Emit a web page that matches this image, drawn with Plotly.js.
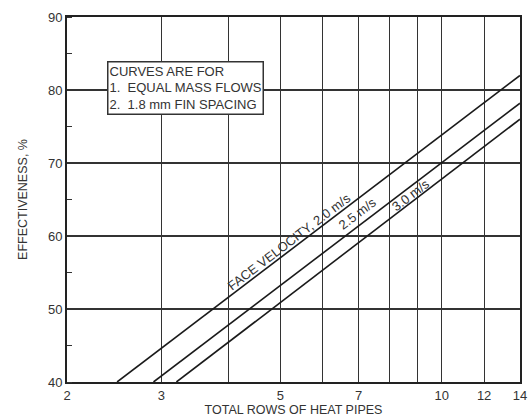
<!DOCTYPE html>
<html>
<head>
<meta charset="utf-8">
<script src="https://cdn.plot.ly/plotly-3.0.1.min.js"></script>
<style>html,body{margin:0;padding:0;background:#fff;}#chart{width:531px;height:419px;}</style>
</head>
<body>
<div id="chart"></div>
<script>
// Data
const rowsV20 = [2.48, 14];
const effV20 = [40, 82.0];
const rowsV25 = [2.90, 14];
const effV25 = [40, 78.2];
const rowsV30 = [3.20, 14];
const effV30 = [40, 76.0];

const xTickVals = [2, 3, 4, 5, 6, 7, 8, 9, 10, 12, 14];
const xTickText = ['2', '3', '', '5', '', '7', '', '', '10', '12', '14'];
const yTickVals = [40, 50, 60, 70, 80, 90];

const curveLabels = ['FACE VELOCITY, 2.0 m/s', '2.5 m/s', '3.0 m/s'];
const labelX = [5.30, 7.16, 8.88];

const noteLines = ['CURVES ARE FOR', '1.  EQUAL MASS FLOWS', '2.  1.8 mm FIN SPACING'];

// Geometry / styling
const W = 531, H = 419, M = {l: 67, r: 11, t: 17, b: 37};
const xRange = [Math.log10(2), Math.log10(14)], yRange = [40, 90];
const pxPerDec = (W - M.l - M.r) / (xRange[1] - xRange[0]);
const pxPerUnit = (H - M.t - M.b) / (yRange[1] - yRange[0]);
const labelGap = [7, 10.5, 6.5];

const seriesX = [rowsV20, rowsV25, rowsV30];
const seriesY = [effV20, effV25, effV30];
const fam = 'Liberation Sans, Arial, sans-serif';
const txt = '#333';

const annotations = curveLabels.map((t, i) => {
  const xs = seriesX[i], ys = seriesY[i];
  const lx0 = Math.log10(xs[0]), lx1 = Math.log10(xs[1]);
  const f = (Math.log10(labelX[i]) - lx0) / (lx1 - lx0);
  const yOnLine = ys[0] + f * (ys[1] - ys[0]);
  const ang = Math.atan2((ys[1] - ys[0]) * pxPerUnit, (lx1 - lx0) * pxPerDec);
  return {
    x: Math.log10(labelX[i]), y: yOnLine, xref: 'x', yref: 'y',
    xshift: -labelGap[i] * Math.sin(ang), yshift: labelGap[i] * Math.cos(ang),
    text: t, showarrow: false, textangle: -ang * 180 / Math.PI,
    font: {family: fam, size: 13, color: txt}
  };
});
annotations.push({
  x: Math.log10(2.376), y: 80.3, xref: 'x', yref: 'y',
  xanchor: 'left', yanchor: 'middle',
  text: noteLines.join('<br>'), align: 'left', showarrow: false,
  bgcolor: '#fff', bordercolor: txt, borderwidth: 1.5, borderpad: 1,
  font: {family: fam, size: 13, color: txt}
});

const lineStyle = {color: '#1a1a1a', width: 1.6};
const traces = [
  {x: rowsV20, y: effV20, mode: 'lines', line: lineStyle, hoverinfo: 'skip'},
  {x: rowsV25, y: effV25, mode: 'lines', line: lineStyle, hoverinfo: 'skip'},
  {x: rowsV30, y: effV30, mode: 'lines', line: lineStyle, hoverinfo: 'skip'}
];

const layout = {
  width: W, height: H, margin: M,
  paper_bgcolor: '#fff', plot_bgcolor: '#fff',
  showlegend: false,
  font: {family: fam, size: 12, color: txt},
  xaxis: {
    type: 'log', range: xRange,
    tickvals: xTickVals, ticktext: xTickText,
    showgrid: true, gridcolor: '#333', gridwidth: 1.2,
    showline: true, linecolor: '#222', linewidth: 2, mirror: true,
    ticks: '', zeroline: false,
    tickfont: {size: 13, color: txt},
    title: {text: 'TOTAL ROWS OF HEAT PIPES', font: {size: 12.5, color: txt}, standoff: 4}
  },
  yaxis: {
    range: yRange, tickvals: yTickVals,
    showgrid: true, gridcolor: '#333', gridwidth: 1.2,
    showline: true, linecolor: '#222', linewidth: 2, mirror: true,
    ticks: '', zeroline: false,
    tickfont: {size: 13, color: txt},
    minor: {ticks: 'inside', dtick: 5, tick0: 45, ticklen: 5, tickcolor: '#333', tickwidth: 1, showgrid: false},
    title: {text: 'EFFECTIVENESS, %', font: {size: 12.5, color: txt}, standoff: 18}
  },
  annotations: annotations
};

Plotly.newPlot('chart', traces, layout, {staticPlot: true, displayModeBar: false});
</script>
</body>
</html>
